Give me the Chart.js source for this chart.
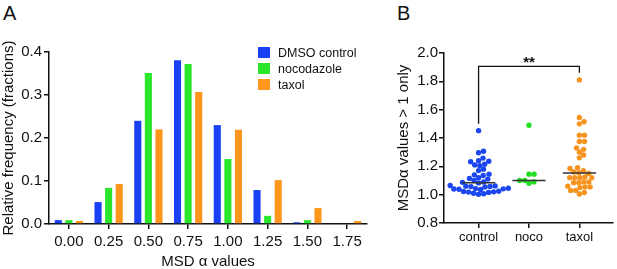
<!DOCTYPE html>
<html>
<head>
<meta charset="utf-8">
<script src="https://cdn.jsdelivr.net/npm/chart.js@4.4.1/dist/chart.umd.min.js"></script>
<style>
  html, body { margin: 0; padding: 0; background: #fff; }
  body { width: 617px; height: 269px; position: relative; overflow: hidden;
         font-family: "Liberation Sans", Arial, sans-serif; color: #111; }
  .panel-label { position: absolute; top: 3px; font-size: 20px; line-height: 20px; }
  canvas { position: absolute; top: 0; }
  #chartA { left: 0; }
  #chartB { left: 380px; }
  #legendA { position: absolute; left: 258px; top: 47px; font-size: 12.5px; z-index: 2; }
  .lg-row { display: flex; align-items: center; height: 11px; margin-bottom: 5px; white-space: nowrap; }
  .lg-box { width: 12px; height: 11px; margin-right: 8px; }
</style>
</head>
<body>
<div class="panel-label" style="left:3px">A</div>
<div class="panel-label" style="left:397px">B</div>
<canvas id="chartA" width="372" height="269"></canvas>
<canvas id="chartB" width="237" height="269"></canvas>
<div id="legendA"></div>
<script>
// Panel A: MSD alpha histogram (relative frequency)
const msdBins = ['0.00', '0.25', '0.50', '0.75', '1.00', '1.25', '1.50', '1.75'];
const dmsoFreq = [0.009, 0.051, 0.240, 0.381, 0.230, 0.079, 0.004, 0];
const nocoFreq = [0.009, 0.084, 0.351, 0.372, 0.151, 0.019, 0.009, 0];
const taxolFreq = [0.007, 0.093, 0.220, 0.307, 0.219, 0.102, 0.037, 0.007];
const seriesNames = ['DMSO control', 'nocodazole', 'taxol'];

// Panel B: MSD alpha values > 1 only
const groups = ['control', 'noco', 'taxol'];
const controlAlpha = [1.452, 1.306, 1.296, 1.258, 1.24, 1.236, 1.232, 1.215, 1.21, 1.205,
    1.18, 1.17, 1.145, 1.14, 1.135, 1.12, 1.115, 1.11, 1.10, 1.09, 1.087, 1.083,
    1.065, 1.062, 1.06, 1.058, 1.057, 1.055,
    1.045, 1.043, 1.041, 1.04, 1.038, 1.036,
    1.025, 1.022, 1.02, 1.018, 1.016,
    1.01, 1.006, 1.003];
const nocoAlpha = [1.49, 1.145, 1.145, 1.10, 1.10, 1.09, 1.08];
const taxolAlpha = [1.81, 1.545, 1.515, 1.50, 1.42, 1.42, 1.375, 1.375, 1.33, 1.32, 1.30, 1.28,
    1.26, 1.19, 1.185, 1.17, 1.16, 1.155, 1.15, 1.125, 1.12, 1.12, 1.12, 1.12, 1.09, 1.09,
    1.085, 1.085, 1.06, 1.055, 1.05, 1.055, 1.03, 1.03, 1.005, 1.015];
const sigPair = [0, 2];
const sigLevel = 1.905;
const sigLegEnds = [1.50, 1.86];
const sigLabel = '**';

const INK = '#111';
const FONT = '"Liberation Sans", Arial, sans-serif';
const barColors = ['#1a40f5', '#2be62b', '#ff961c'];
const dotColors = ['#1b46f0', '#22de22', '#f7941f'];

Chart.defaults.font.family = FONT;
Chart.defaults.color = INK;

const axisGrid = { drawOnChartArea: false, drawTicks: true, tickLength: 5, color: INK, lineWidth: 1.5 };
const axisBorder = { display: true, color: INK, width: 1.5 };

function median(arr) {
    const s = [...arr].sort((a, b) => a - b);
    const m = Math.floor(s.length / 2);
    return s.length % 2 ? s[m] : (s[m - 1] + s[m]) / 2;
}

// ---- chart A ----
const chartA = new Chart(document.getElementById('chartA'), {
    type: 'bar',
    data: {
        labels: msdBins,
        datasets: [dmsoFreq, nocoFreq, taxolFreq].map((d, i) => ({
            label: seriesNames[i],
            data: d,
            backgroundColor: barColors[i],
            borderWidth: 0,
            categoryPercentage: 0.8,
            barPercentage: 0.67
        }))
    },
    options: {
        responsive: false,
        animation: false,
        layout: { padding: { top: 52, right: 5, left: 0, bottom: 0 } },
        plugins: { legend: { display: false }, tooltip: { enabled: false } },
        scales: {
            x: {
                offset: true,
                grid: { ...axisGrid, offset: false },
                border: axisBorder,
                ticks: { color: INK, font: { size: 15 }, padding: 4, maxRotation: 0, autoSkip: false },
                title: { display: true, text: 'MSD α values', color: INK, font: { size: 15, lineHeight: 1 }, padding: 0 },
                afterFit: s => { s.height = 45; }
            },
            y: {
                min: 0,
                max: 0.4,
                grid: axisGrid,
                border: axisBorder,
                ticks: { stepSize: 0.1, color: INK, font: { size: 15 }, padding: 2, callback: v => v.toFixed(1) },
                title: { display: true, text: 'Relative frequency (fractions)', color: INK,
                         font: { size: 15, lineHeight: 1 }, padding: { top: 1, bottom: 0 } },
                afterFit: s => { s.width = 49; }
            }
        }
    }
});

// html legend built from the datasets
const legendEl = document.getElementById('legendA');
chartA.data.datasets.forEach(ds => {
    const row = document.createElement('div');
    row.className = 'lg-row';
    row.innerHTML = '<span class="lg-box" style="background:' + ds.backgroundColor + '"></span>' + ds.label;
    legendEl.appendChild(row);
});

// ---- chart B ----
const groupValues = [controlAlpha, nocoAlpha, taxolAlpha];
const DOT_R = 2.7;

const sigLabelPlugin = {
    id: 'sigLabel',
    afterDatasetsDraw(chart) {
        const { ctx, scales: { x, y } } = chart;
        ctx.save();
        ctx.font = 'bold 15px ' + FONT;
        ctx.fillStyle = INK;
        ctx.textAlign = 'center';
        ctx.textBaseline = 'middle';
        ctx.fillText(sigLabel, x.getPixelForValue((sigPair[0] + sigPair[1]) / 2), y.getPixelForValue(sigLevel) - 4);
        ctx.restore();
    }
};

const chartB = new Chart(document.getElementById('chartB'), {
    type: 'scatter',
    data: {
        datasets: [
            ...groupValues.map((vals, gi) => {
                const med = median(vals);
                return {
                    type: 'line',
                    data: [{ x: gi - 0.33, y: med }, { x: gi + 0.33, y: med }],
                    borderColor: '#333',
                    borderWidth: 1.5,
                    pointRadius: 0,
                    order: 0
                };
            }),
            {
                type: 'line',
                data: [
                    { x: sigPair[0], y: sigLegEnds[0] },
                    { x: sigPair[0], y: sigLevel },
                    { x: sigPair[1], y: sigLevel },
                    { x: sigPair[1], y: sigLegEnds[1] }
                ],
                borderColor: INK,
                borderWidth: 1.3,
                pointRadius: 0,
                order: 0
            },
            ...groupValues.map((vals, gi) => ({
                data: vals.map(v => ({ x: gi, y: v })),
                backgroundColor: dotColors[gi],
                borderWidth: 0,
                pointRadius: DOT_R,
                order: 1
            }))
        ]
    },
    options: {
        responsive: false,
        animation: false,
        layout: { padding: { top: 53, right: 2, left: 0, bottom: 0 } },
        plugins: { legend: { display: false }, tooltip: { enabled: false } },
        scales: {
            x: {
                type: 'linear',
                min: -0.686,
                max: 2.667,
                afterBuildTicks: s => { s.ticks = groups.map((g, i) => ({ value: i })); },
                grid: axisGrid,
                border: axisBorder,
                ticks: { color: INK, font: { size: 13 }, padding: 2, maxRotation: 0, callback: v => groups[v] },
                afterFit: s => { s.height = 46; }
            },
            y: {
                min: 0.8,
                max: 2.0,
                grid: axisGrid,
                border: axisBorder,
                ticks: { stepSize: 0.2, color: INK, font: { size: 15 }, padding: 1, callback: v => v.toFixed(1) },
                title: { display: true, text: 'MSDα values > 1 only', color: INK,
                         font: { size: 15, lineHeight: 1 }, padding: { top: 16, bottom: 0 } },
                afterFit: s => { s.width = 64; }
            }
        }
    },
    plugins: [sigLabelPlugin]
});

// spread the dots sideways like a column scatter (beeswarm), using the pixel scales
function swarm(values, yScale, d) {
    const order = values.map((v, i) => i).sort((a, b) => values[a] - values[b]);
    const placed = [];
    const offs = new Array(values.length).fill(0);
    for (const i of order) {
        const py = yScale.getPixelForValue(values[i]);
        const cands = [0];
        placed.forEach(p => {
            const dy = Math.abs(p.y - py);
            if (dy < d) {
                const dx = Math.sqrt(d * d - dy * dy);
                cands.push(p.x + dx, p.x - dx);
            }
        });
        cands.sort((a, b) => Math.abs(a) - Math.abs(b));
        const ok = cands.find(cx => placed.every(p => (p.x - cx) ** 2 + (p.y - py) ** 2 >= d * d - 0.01));
        offs[i] = ok;
        placed.push({ x: ok, y: py });
    }
    return offs;
}

const xs = chartB.scales.x, ys = chartB.scales.y;
const pxPerUnit = xs.getPixelForValue(1) - xs.getPixelForValue(0);
groupValues.forEach((vals, gi) => {
    const offs = swarm(vals, ys, DOT_R * 2 - 0.3);
    chartB.data.datasets[4 + gi].data = vals.map((v, i) => ({ x: gi + offs[i] / pxPerUnit, y: v }));
});
chartB.update('none');
</script>
</body>
</html>
